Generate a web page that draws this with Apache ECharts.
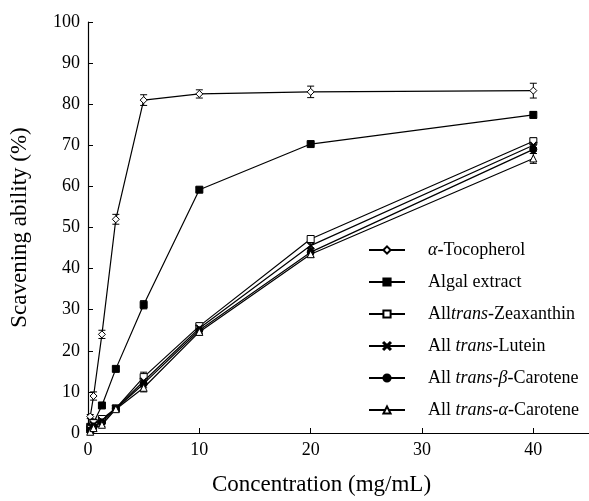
<!DOCTYPE html>
<html>
<head>
<meta charset="utf-8">
<script src="https://cdn.jsdelivr.net/npm/echarts@6/dist/echarts.min.js"></script>
<style>
    html, body { margin: 0; padding: 0; background: #fff; }
    #chart { width: 589px; height: 501px; }
</style>
</head>
<body>
<div id="chart"></div>
<script>
    // concentrations (mg/mL)
    var conc = [0.2, 0.5, 1.25, 2.5, 5, 10, 20, 40];
    var xTicks = [0, 10, 20, 30, 40];

    var tocopherol = [4, 9, 24, 52, 81, 82.5, 83, 83.3];
    var tocopherolErr = [0.5, 1, 1, 1.2, 1.3, 1, 1.4, 1.8];
    var algal = [1.5, 2.5, 6.7, 15.6, 31.2, 59.2, 70.3, 77.4];
    var algalErr = [0.3, 0.3, 0.4, 0.5, 1.0, 0.5, 0.4, 0.8];
    var zeaxanthin = [1.0, 2.4, 3.4, 6.0, 13.6, 26.0, 47.2, 71.0];
    var zeaxanthinErr = [0.3, 0.4, 0.5, 0.5, 1.2, 0.7, 0.8, 0.8];
    var lutein = [0.8, 2.0, 3.0, 6.0, 12.6, 25.5, 45.6, 70.0];
    var luteinErr = [0.2, 0.3, 0.4, 0.5, 1.0, 0.8, 0.8, 0.8];
    var betaCarotene = [0.6, 1.6, 2.6, 5.9, 12.0, 25.0, 44.0, 69.0];
    var betaCaroteneErr = [0.2, 0.3, 0.4, 0.5, 1.0, 0.8, 1.0, 1.0];
    var alphaCarotene = [0.3, 1.2, 2.0, 5.8, 11.0, 24.6, 43.5, 66.8];
    var alphaCaroteneErr = [0.2, 0.3, 0.4, 0.5, 1.0, 0.8, 0.8, 1.2];

    var names = ['toco', 'algal', 'zea', 'lut', 'beta', 'alpha'];
    var labels = {
        toco: '{i|α}{n|-Tocopherol}',
        algal: '{n|Algal extract}',
        zea: '{n|All}{i|trans}{n|-Zeaxanthin}',
        lut: '{n|All }{i|trans}{n|-Lutein}',
        beta: '{n|All }{i|trans}{n|-}{i|β}{n|-Carotene}',
        alpha: '{n|All }{i|trans}{n|-}{i|α}{n|-Carotene}'
    };

    var font = 'Liberation Serif';
    var crossPath = 'path://M1,0L5,4L9,0L10,1L6,5L10,9L9,10L5,6L1,10L0,9L4,5L0,1Z';

    function lineSeries(name, vals, symbol, fill, size) {
        return {
            name: name,
            type: 'line',
            data: conc.map(function (c, i) { return [c, vals[i]]; }),
            symbol: symbol,
            symbolSize: size,
            showAllSymbol: true,
            z: 3,
            lineStyle: { color: '#000', width: 1.2 },
            itemStyle: { color: fill, borderColor: '#000', borderWidth: 1 },
            emphasis: { disabled: true }
        };
    }

    function errorSeries(vals, errs) {
        return {
            type: 'custom',
            z: 2,
            silent: true,
            data: conc.map(function (c, i) { return [c, vals[i] - errs[i], vals[i] + errs[i]]; }),
            encode: { x: 0, y: [1, 2] },
            renderItem: function (params, api) {
                var lo = api.coord([api.value(0), api.value(1)]);
                var hi = api.coord([api.value(0), api.value(2)]);
                var w = 3.5;
                var st = { stroke: '#000', lineWidth: 1 };
                return {
                    type: 'group',
                    children: [
                        { type: 'line', shape: { x1: lo[0], y1: lo[1], x2: hi[0], y2: hi[1] }, style: st },
                        { type: 'line', shape: { x1: lo[0] - w, y1: lo[1], x2: lo[0] + w, y2: lo[1] }, style: st },
                        { type: 'line', shape: { x1: hi[0] - w, y1: hi[1], x2: hi[0] + w, y2: hi[1] }, style: st }
                    ]
                };
            }
        };
    }

    var myChart = echarts.init(document.getElementById('chart'));
    myChart.setOption({
        animation: false,
        backgroundColor: '#fff',
        grid: { left: 79, top: 22, right: -2, bottom: 57 },
        legend: {
            orient: 'vertical',
            left: 368,
            top: 241,
            padding: 0,
            itemWidth: 36,
            itemHeight: 9,
            itemGap: 14,
            data: names,
            lineStyle: { width: 2 },
            formatter: function (n) { return '{g|}' + labels[n]; },
            textStyle: {
                rich: {
                    g: { width: 18 },
                    n: { fontFamily: font, fontSize: 18, color: '#000' },
                    i: { fontFamily: font, fontSize: 18, fontStyle: 'italic', color: '#000' }
                }
            }
        },
        xAxis: {
            type: 'value',
            min: 0,
            max: 45,
            interval: 10,
            name: 'Concentration (mg/mL)',
            nameLocation: 'middle',
            nameGap: 40,
            nameTextStyle: { fontFamily: font, fontSize: 23, color: '#000', padding: [0, 34, 0, 0] },
            splitLine: { show: false },
            axisLine: { lineStyle: { color: '#000', width: 1.2 } },
            axisTick: { inside: true, length: 5, lineStyle: { color: '#000' }, customValues: xTicks },
            axisLabel: { fontFamily: font, fontSize: 18, color: '#000', margin: 8, customValues: xTicks }
        },
        yAxis: {
            type: 'value',
            min: 0,
            max: 100,
            interval: 10,
            name: 'Scavening ability (%)',
            nameLocation: 'middle',
            nameGap: 57,
            nameTextStyle: { fontFamily: font, fontSize: 23, color: '#000' },
            splitLine: { show: false },
            axisLine: { show: true, lineStyle: { color: '#000', width: 1.2 } },
            axisTick: { show: true, inside: true, length: 5, lineStyle: { color: '#000' } },
            axisLabel: { fontFamily: font, fontSize: 18, color: '#000', margin: 8 }
        },
        series: [
            errorSeries(tocopherol, tocopherolErr),
            errorSeries(algal, algalErr),
            errorSeries(zeaxanthin, zeaxanthinErr),
            errorSeries(lutein, luteinErr),
            errorSeries(betaCarotene, betaCaroteneErr),
            errorSeries(alphaCarotene, alphaCaroteneErr),
            lineSeries('toco', tocopherol, 'diamond', '#fff', 7),
            lineSeries('algal', algal, 'rect', '#000', 7),
            lineSeries('zea', zeaxanthin, 'rect', '#fff', 7),
            lineSeries('lut', lutein, crossPath, '#000', 7),
            lineSeries('beta', betaCarotene, 'circle', '#000', 7),
            lineSeries('alpha', alphaCarotene, 'triangle', '#fff', 7)
        ]
    });
</script>
</body>
</html>
